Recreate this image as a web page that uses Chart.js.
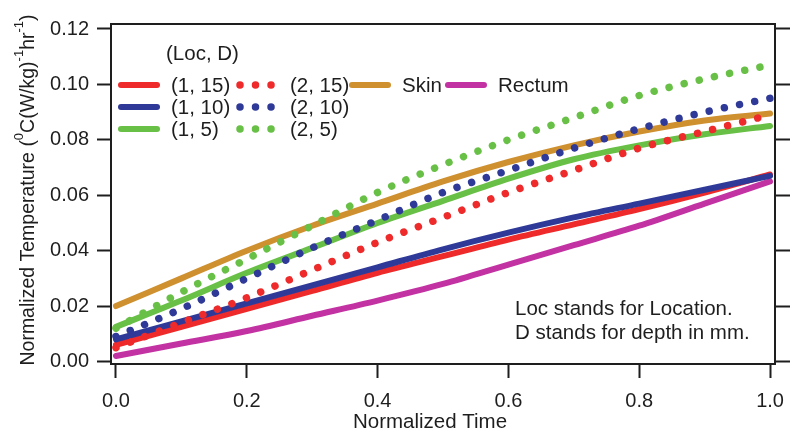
<!DOCTYPE html>
<html>
<head>
<meta charset="utf-8">
<script src="https://cdn.jsdelivr.net/npm/chart.js@4.4.0/dist/chart.umd.min.js"></script>
<style>
html, body { margin: 0; padding: 0; background: #fff; }
</style>
</head>
<body>
<canvas id="grafik" width="798" height="440"></canvas>
<script>
// normalized time points
var zaman = [0, 0.1, 0.2, 0.3, 0.4, 0.5, 0.6, 0.7, 0.8, 0.9, 1.0];

// series
var loc1d15 = [0.006, 0.0125, 0.019, 0.0255, 0.032, 0.038, 0.044, 0.0495, 0.055, 0.061, 0.0675];
var loc1d10 = [0.008, 0.0145, 0.021, 0.0275, 0.034, 0.0405, 0.0465, 0.052, 0.057, 0.062, 0.067];
var loc1d5  = [0.0125, 0.022, 0.032, 0.041, 0.050, 0.058, 0.066, 0.073, 0.078, 0.082, 0.085];
var loc2d15 = [0.005, 0.014, 0.023, 0.033, 0.043, 0.052, 0.061, 0.069, 0.077, 0.083, 0.089];
var loc2d10 = [0.009, 0.019, 0.030, 0.041, 0.051, 0.061, 0.069, 0.077, 0.084, 0.090, 0.095];
var loc2d5  = [0.012, 0.025, 0.037, 0.049, 0.061, 0.071, 0.080, 0.088, 0.096, 0.102, 0.107];
var skin    = [0.020, 0.030, 0.040, 0.049, 0.057, 0.065, 0.072, 0.078, 0.083, 0.087, 0.0895];
var rectum  = [0.002, 0.0065, 0.011, 0.0165, 0.022, 0.028, 0.035, 0.042, 0.049, 0.057, 0.065];

var xTicks = [0, 0.2, 0.4, 0.6, 0.8, 1.0];
var yTicks = [0, 0.02, 0.04, 0.06, 0.08, 0.10, 0.12];

var kirmizi = "#ee2a2a";
var mavi = "#2f3a98";
var yesil = "#69c046";
var turuncu = "#cf9030";
var mor = "#c332a2";

var fontAdi = "'Liberation Sans', Arial, sans-serif";
var yaziRengi = "#1e1e1e";

function noktalar(seri) {
    return zaman.map(function (t, i) { return { x: t, y: seri[i] }; });
}

function seriOlustur(etiket, seri, renk, noktali) {
    return {
        label: etiket,
        data: noktalar(seri),
        borderColor: renk,
        backgroundColor: renk,
        borderWidth: noktali ? 7.5 : 6,
        borderDash: noktali ? [0.01, 15.5] : [],
        borderCapStyle: "round",
        pointRadius: 0,
        fill: false,
        cubicInterpolationMode: "monotone"
    };
}

var veriler = [
    seriOlustur("(2, 5)", loc2d5, yesil, true),
    seriOlustur("(2, 10)", loc2d10, mavi, true),
    seriOlustur("(2, 15)", loc2d15, kirmizi, true),
    seriOlustur("Skin", skin, turuncu, false),
    seriOlustur("(1, 5)", loc1d5, yesil, false),
    seriOlustur("(1, 10)", loc1d10, mavi, false),
    seriOlustur("(1, 15)", loc1d15, kirmizi, false),
    seriOlustur("Rectum", rectum, mor, false)
];

// legend entries: [dataset index, line x, row y]
var lejant = [
    [6, 121, 85], [5, 121, 107], [4, 121, 129],
    [2, 240, 85], [1, 240, 107], [0, 240, 129],
    [3, 352, 85], [7, 448, 85]
];

var yaziEklentisi = {
    id: "yazilar",
    afterDraw: function (chart) {
        var ctx = chart.ctx;
        ctx.save();
        ctx.fillStyle = yaziRengi;
        ctx.textBaseline = "middle";
        ctx.font = "20.5px " + fontAdi;

        // legend
        ctx.textAlign = "left";
        ctx.fillText("(Loc, D)", 166, 54);
        lejant.forEach(function (l) {
            var ds = chart.data.datasets[l[0]];
            ctx.save();
            ctx.strokeStyle = ds.borderColor;
            ctx.lineWidth = ds.borderWidth;
            ctx.lineCap = "round";
            ctx.setLineDash(ds.borderDash);
            ctx.beginPath();
            ctx.moveTo(l[1], l[2]);
            ctx.lineTo(l[1] + (ds.borderDash.length ? 33 : 36), l[2]);
            ctx.stroke();
            ctx.restore();
            ctx.fillText(ds.label, l[1] + 50, l[2] + 1);
        });

        // note
        ctx.fillText("Loc stands for Location.", 515, 309);
        ctx.fillText("D stands for depth in mm.", 515, 333);

        // x title
        ctx.textAlign = "center";
        ctx.fillText("Normalized Time", 430, 422);

        // y title with superscripts
        var parcalar = [
            ["Normalized Temperature (", false],
            ["0", true],
            ["C(W/kg)", false],
            ["-1", true],
            ["hr", false],
            ["-1", true],
            [")", false]
        ];
        var toplam = 0;
        parcalar.forEach(function (p) {
            ctx.font = (p[1] ? "13px " : "19.5px ") + fontAdi;
            p.push(ctx.measureText(p[0]).width);
            toplam += p[2];
        });
        ctx.translate(29, 190);
        ctx.rotate(-Math.PI / 2);
        ctx.textAlign = "left";
        var px = -toplam / 2;
        parcalar.forEach(function (p) {
            ctx.font = (p[1] ? "13px " : "19.5px ") + fontAdi;
            ctx.fillText(p[0], px, p[1] ? -10 : 0);
            px += p[2];
        });
        ctx.restore();
    }
};

function eksenAyari(konum, min, max, tikler, boyut, etiketGoster, basamak, tikUzunlugu) {
    return {
        type: "linear",
        position: konum,
        min: min,
        max: max,
        afterBuildTicks: function (s) {
            s.ticks = tikler.map(function (v) { return { value: v }; });
        },
        afterFit: function (s) {
            if (konum == "left" || konum == "right") s.width = boyut;
            else s.height = boyut;
        },
        ticks: {
            display: etiketGoster,
            color: yaziRengi,
            font: { size: 20, family: fontAdi },
            padding: konum == "bottom" ? 11 : 8,
            maxRotation: 0,
            autoSkip: false,
            callback: function (v) { return Number(v).toFixed(basamak); }
        },
        grid: {
            display: tikUzunlugu > 0,
            drawOnChartArea: false,
            drawTicks: true,
            tickLength: tikUzunlugu,
            tickColor: "#1e1e1e",
            tickWidth: 2
        },
        border: { display: true, color: "#1e1e1e", width: 2 }
    };
}

new Chart(document.getElementById("grafik").getContext("2d"), {
    type: "line",
    data: { datasets: veriler },
    options: {
        responsive: false,
        animation: false,
        layout: { padding: 0 },
        plugins: { legend: { display: false }, tooltip: { enabled: false } },
        scales: {
            x: eksenAyari("bottom", -0.0076, 1.0076, xTicks, 76, true, 1, 14),
            x2: eksenAyari("top", -0.0076, 1.0076, xTicks, 24, false, 1, 0),
            y: eksenAyari("left", -0.0009, 0.1218, yTicks, 111, true, 2, 14),
            y2: eksenAyari("right", -0.0009, 0.1218, yTicks, 23, false, 2, 15)
        }
    },
    plugins: [yaziEklentisi]
});
</script>
</body>
</html>
